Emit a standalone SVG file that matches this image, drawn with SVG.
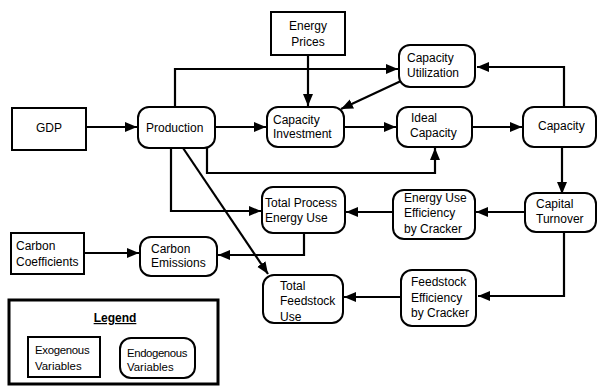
<svg xmlns="http://www.w3.org/2000/svg" width="598" height="392" viewBox="0 0 598 392">
<style>
.box{fill:#fff;stroke:#000;stroke-width:2}
.leg{fill:#fff;stroke:#000;stroke-width:3}
text{font-family:"Liberation Sans",Arial,sans-serif;font-size:12px;fill:#000}
.c{text-anchor:middle}
.s{font-size:11.4px}
.con{fill:none;stroke:#000;stroke-width:2.2}
</style>
<defs>
<marker id="ah" markerUnits="userSpaceOnUse" markerWidth="13" markerHeight="11" refX="12" refY="5" orient="auto">
<path d="M0,0 L12,5 L0,10 z" fill="#000"/>
</marker>
</defs>
<rect width="598" height="392" fill="#fff"/>
<g id="connectors">
<path class="con" marker-end="url(#ah)" d="M86,127 H137"/>
<path class="con" marker-end="url(#ah)" d="M215,127 H266"/>
<path class="con" marker-end="url(#ah)" d="M344,127 H396"/>
<path class="con" marker-end="url(#ah)" d="M472,127 H522"/>
<path class="con" marker-end="url(#ah)" d="M308,55 V106"/>
<path class="con" marker-end="url(#ah)" d="M175,107 V69 H398"/>
<path class="con" marker-end="url(#ah)" d="M401,81 L341,109"/>
<path class="con" marker-end="url(#ah)" d="M564,107 V67 H477"/>
<path class="con" marker-end="url(#ah)" d="M207,148 V173 H435 V148"/>
<path class="con" marker-end="url(#ah)" d="M562,147 V194"/>
<path class="con" marker-end="url(#ah)" d="M171,148 V211 H261"/>
<path class="con" marker-end="url(#ah)" d="M183,148 L268,274"/>
<path class="con" marker-end="url(#ah)" d="M525,212 H476"/>
<path class="con" marker-end="url(#ah)" d="M393,212 H346"/>
<path class="con" marker-end="url(#ah)" d="M304,233 V255 H218"/>
<path class="con" marker-end="url(#ah)" d="M84,253 H139"/>
<path class="con" marker-end="url(#ah)" d="M564,232 V296 H478"/>
<path class="con" marker-end="url(#ah)" d="M401,297 H344"/>
</g>
<g id="gdp"><rect class="box" x="12" y="108" width="74" height="42"/><text class="c" x="49" y="132">GDP</text></g>
<g id="production"><rect class="box" x="138" y="107" width="77" height="41" rx="11"/><text x="146" y="132">Production</text></g>
<g id="energy-prices"><rect class="box" x="271" y="12" width="74" height="43"/><text class="c" x="308" y="30">Energy</text><text class="c" x="308" y="46">Prices</text></g>
<g id="capacity-utilization"><rect class="box" x="399" y="45" width="76" height="42" rx="11"/><text x="407" y="62">Capacity</text><text x="407" y="77">Utilization</text></g>
<g id="capacity-investment"><rect class="box" x="267" y="107" width="77" height="40" rx="11"/><text x="273" y="124">Capacity</text><text x="273" y="138">Investment</text></g>
<g id="ideal-capacity"><rect class="box" x="397" y="107" width="75" height="40" rx="11"/><text x="411" y="122">Ideal</text><text x="410" y="137">Capacity</text></g>
<g id="capacity"><rect class="box" x="523" y="107" width="73" height="40" rx="11"/><text x="538" y="130">Capacity</text></g>
<g id="capital-turnover"><rect class="box" x="525" y="193" width="71" height="39" rx="11"/><text x="536" y="208">Capital</text><text x="536" y="223">Turnover</text></g>
<g id="total-process-energy-use"><rect class="box" x="262" y="187" width="83" height="46" rx="11"/><text x="265" y="207">Total Process</text><text x="265" y="222">Energy Use</text></g>
<g id="energy-use-efficiency"><rect class="box" x="393" y="190" width="82" height="49" rx="11"/><text x="404" y="202">Energy Use</text><text x="404" y="217">Efficiency</text><text x="404" y="233">by Cracker</text></g>
<g id="carbon-coefficients"><rect class="box" x="11" y="233" width="73" height="41"/><text x="16" y="250">Carbon</text><text x="16" y="266">Coefficients</text></g>
<g id="carbon-emissions"><rect class="box" x="140" y="237" width="77" height="39" rx="11"/><text x="151" y="253">Carbon</text><text x="151" y="267">Emissions</text></g>
<g id="total-feedstock-use"><rect class="box" x="263" y="275" width="80" height="48" rx="11"/><text x="280" y="290">Total</text><text x="280" y="305">Feedstock</text><text x="280" y="321">Use</text></g>
<g id="feedstock-efficiency"><rect class="box" x="401" y="270" width="75" height="56" rx="11"/><text x="411" y="286">Feedstock</text><text x="411" y="302">Efficiency</text><text x="411" y="317">by Cracker</text></g>
<g id="legend">
<rect class="leg" x="9" y="300" width="209" height="84"/>
<text class="c" x="115" y="322" font-weight="bold" text-decoration="underline">Legend</text>
<rect class="box" x="28" y="337" width="72" height="40"/>
<text class="s" x="35" y="354" letter-spacing="-0.3">Exogenous</text><text class="s" x="35" y="370">Variables</text>
<rect class="box" x="120" y="338" width="75" height="40" rx="11"/>
<text class="s" x="127" y="357" letter-spacing="-0.4">Endogenous</text><text class="s" x="127" y="371">Variables</text>
</g>
</svg>
